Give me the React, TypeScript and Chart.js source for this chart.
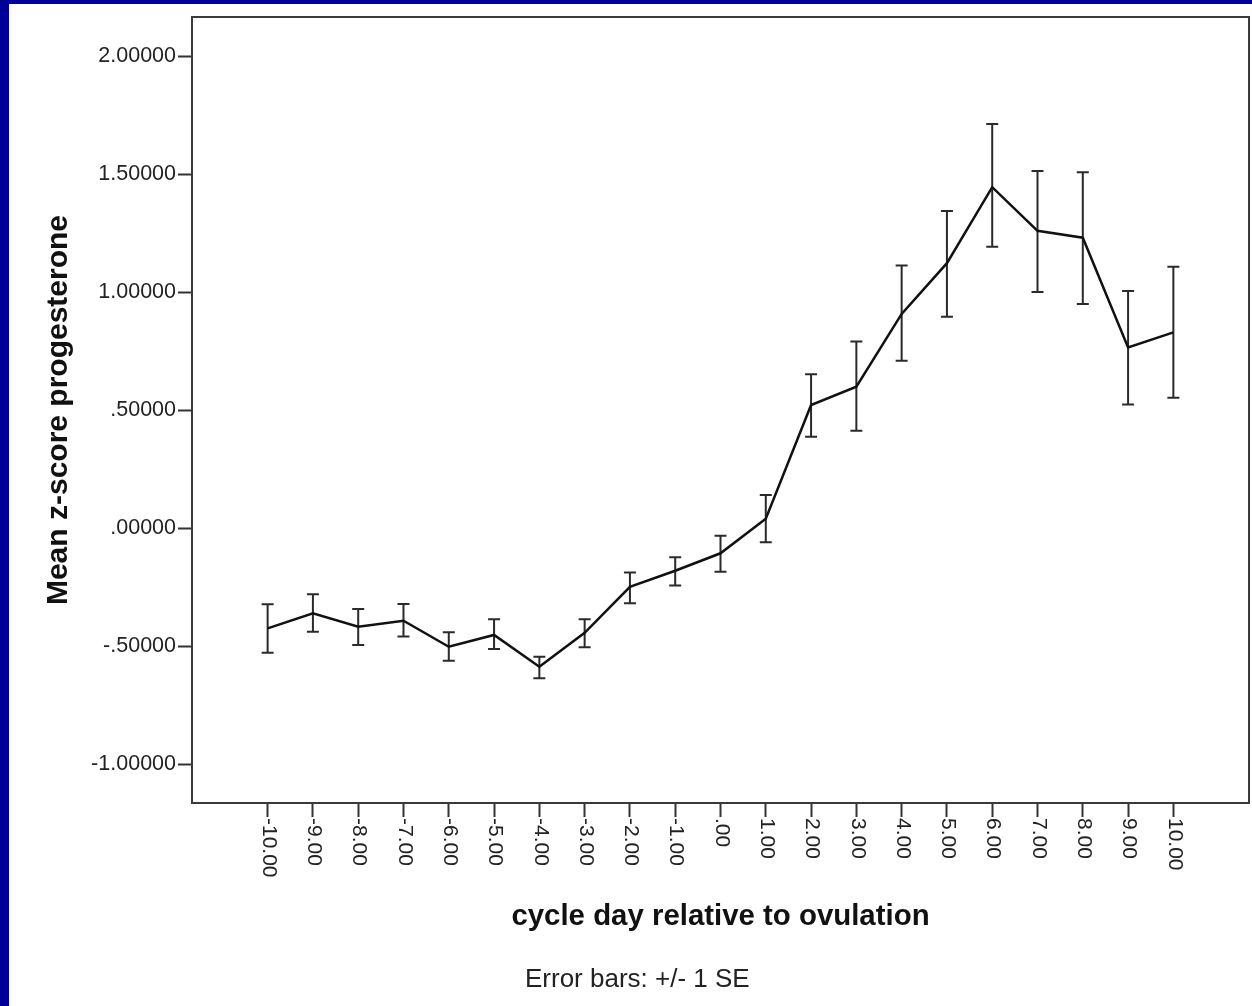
import React, { useEffect, useRef } from "react";
import { Chart, registerables } from "chart.js";

Chart.register(...registerables);

// ---- data ----
const cycleDays = [-10, -9, -8, -7, -6, -5, -4, -3, -2, -1, 0, 1, 2, 3, 4, 5, 6, 7, 8, 9, 10];
const meanZ = [
  -0.423, -0.359, -0.416, -0.391, -0.501, -0.451, -0.586, -0.442, -0.247, -0.179, -0.105,
  0.041, 0.523, 0.601, 0.909, 1.124, 1.446, 1.261, 1.232, 0.767, 0.831,
];
const upperSE = [
  -0.321, -0.279, -0.341, -0.32, -0.44, -0.385, -0.543, -0.385, -0.186, -0.122, -0.031,
  0.142, 0.653, 0.792, 1.114, 1.345, 1.714, 1.515, 1.509, 1.006, 1.109,
];
const lowerSE = [
  -0.526, -0.437, -0.494, -0.458, -0.56, -0.511, -0.635, -0.503, -0.317, -0.242, -0.183,
  -0.058, 0.389, 0.414, 0.711, 0.897, 1.194, 1.002, 0.951, 0.525, 0.554,
];
const yTickValues = [-1.0, -0.5, 0.0, 0.5, 1.0, 1.5, 2.0];
const xTickValues = [-10, -9, -8, -7, -6, -5, -4, -3, -2, -1, 0, 1, 2, 3, 4, 5, 6, 7, 8, 9, 10];

const xTitle = "cycle day relative to ovulation";
const yTitle = "Mean z-score progesterone";
const footnote = "Error bars: +/- 1 SE";

const FONT = '"Liberation Sans", Arial, sans-serif';

function stripZero(s: string): string {
  return s.replace(/^(-?)0\./, "$1.");
}

const chromePlugin = {
  id: "chrome",
  beforeDraw(chart: any) {
    const { ctx, width, height } = chart;
    ctx.save();
    ctx.fillStyle = "#ffffff";
    ctx.fillRect(0, 0, width, height);
    ctx.fillStyle = "#000099";
    ctx.fillRect(0, 0, width, 4);
    ctx.fillRect(0, 0, 9, height);
    ctx.restore();
  },
  beforeDatasetsDraw(chart: any) {
    const { ctx } = chart;
    const xs = chart.scales.x;
    const ys = chart.scales.y;
    ctx.save();
    ctx.strokeStyle = "#2a2a2a";
    ctx.lineWidth = 2;
    for (let i = 0; i < cycleDays.length; i++) {
      const x = xs.getPixelForValue(cycleDays[i]);
      const yt = ys.getPixelForValue(upperSE[i]);
      const yb = ys.getPixelForValue(lowerSE[i]);
      ctx.beginPath();
      ctx.moveTo(x, yt);
      ctx.lineTo(x, yb);
      ctx.moveTo(x - 6, yt);
      ctx.lineTo(x + 6, yt);
      ctx.moveTo(x - 6, yb);
      ctx.lineTo(x + 6, yb);
      ctx.stroke();
    }
    ctx.restore();
  },
  afterDraw(chart: any) {
    const { ctx, chartArea } = chart;
    const xs = chart.scales.x;
    ctx.save();
    // frame
    ctx.strokeStyle = "#3a3a3a";
    ctx.lineWidth = 2;
    ctx.strokeRect(chartArea.left, chartArea.top, chartArea.right - chartArea.left, chartArea.bottom - chartArea.top);

    // x tick labels (rotated clockwise)
    ctx.fillStyle = "#222";
    ctx.font = `21px ${FONT}`;
    ctx.textAlign = "left";
    ctx.textBaseline = "middle";
    for (const v of xTickValues) {
      const x = xs.getPixelForValue(v);
      ctx.save();
      ctx.translate(x + 1, chartArea.bottom + 15);
      ctx.rotate(Math.PI / 2);
      ctx.fillText(stripZero(v.toFixed(2)), 0, 0);
      ctx.restore();
    }

    // x title
    const cx = (chartArea.left + chartArea.right) / 2;
    ctx.fillStyle = "#111";
    ctx.font = `bold 29.4px ${FONT}`;
    ctx.textAlign = "center";
    ctx.textBaseline = "alphabetic";
    ctx.fillText(xTitle, cx, chartArea.bottom + 122);

    // y title
    const cy = (chartArea.top + chartArea.bottom) / 2;
    ctx.font = `bold 30px ${FONT}`;
    ctx.save();
    ctx.translate(67, cy);
    ctx.rotate(-Math.PI / 2);
    ctx.fillText(yTitle, 0, 0);
    ctx.restore();

    // footnote
    ctx.fillStyle = "#222";
    ctx.font = `26px ${FONT}`;
    ctx.textAlign = "left";
    ctx.fillText(footnote, chartArea.left + 333, chartArea.bottom + 184);
    ctx.restore();
  },
};

export default function App() {
  const ref = useRef<HTMLCanvasElement | null>(null);

  useEffect(() => {
    document.body.style.margin = "0";
    const canvas = ref.current;
    if (!canvas) return;
    const chart = new Chart(canvas, {
      type: "line",
      data: {
        datasets: [
          {
            label: "Mean z-score progesterone",
            data: cycleDays.map((d, i) => ({ x: d, y: meanZ[i] })),
            borderColor: "#111",
            borderWidth: 2.5,
            pointRadius: 0,
            tension: 0,
            fill: false,
          },
        ],
      },
      options: {
        animation: false,
        responsive: false,
        devicePixelRatio: 1,
        layout: { padding: { left: 0, top: 17, right: 3, bottom: 0 } },
        plugins: {
          legend: { display: false },
          tooltip: { enabled: false },
          title: { display: false },
        },
        scales: {
          x: {
            type: "linear",
            min: -11.67,
            max: 11.67,
            afterBuildTicks: (s: any) => {
              s.ticks = xTickValues.map((v) => ({ value: v }));
            },
            afterFit: (s: any) => {
              s.height = 203;
            },
            ticks: { display: false },
            border: { display: false },
            grid: {
              drawOnChartArea: false,
              drawTicks: true,
              tickLength: 14,
              tickColor: "#333",
              tickWidth: 2,
            },
          },
          y: {
            type: "linear",
            min: -1.163,
            max: 2.167,
            afterBuildTicks: (s: any) => {
              s.ticks = yTickValues.map((v) => ({ value: v }));
            },
            afterFit: (s: any) => {
              s.width = 192;
            },
            ticks: {
              padding: 2,
              color: "#222",
              font: { family: FONT, size: 21.5 },
              callback: (v: any) => stripZero(Number(v).toFixed(5)),
            },
            border: { display: false },
            grid: {
              drawOnChartArea: false,
              drawTicks: true,
              tickLength: 14,
              tickColor: "#333",
              tickWidth: 2,
            },
          },
        },
      },
      plugins: [chromePlugin],
    });
    return () => chart.destroy();
  }, []);

  return (
    <div style={{ position: "absolute", left: 0, top: 0, width: 1252, height: 1006 }}>
      <canvas ref={ref} width={1252} height={1006} style={{ display: "block", width: 1252, height: 1006 }} />
    </div>
  );
}
